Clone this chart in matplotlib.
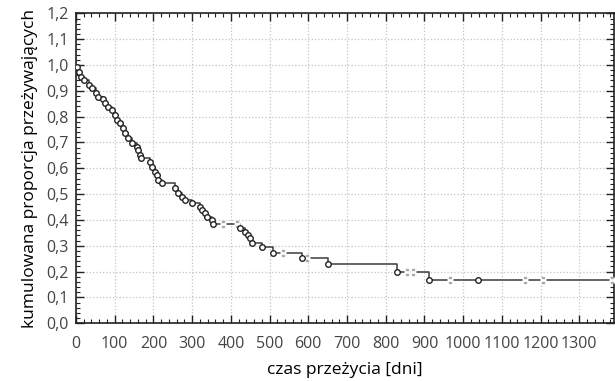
import numpy as np
import matplotlib
matplotlib.use("Agg")
import matplotlib.pyplot as plt
from matplotlib.ticker import MultipleLocator, FuncFormatter

# Kaplan-Meier estimate
event_times = [3, 8, 13, 21, 34, 42, 52, 57, 70, 75, 83, 93, 101, 106, 114,
               122, 127, 134, 145, 158, 161, 166, 168, 191, 196, 204, 209,
               212, 222, 256, 264, 274, 282, 300, 320, 326, 333, 339, 352,
               354, 424, 437, 444, 450, 455, 481, 509, 584, 651, 829, 912,
               1039]
event_surv = [0.992, 0.973, 0.954, 0.942, 0.923, 0.911, 0.892, 0.876, 0.868,
              0.853, 0.837, 0.826, 0.806, 0.787, 0.775, 0.756, 0.737, 0.718,
              0.698, 0.683, 0.671, 0.651, 0.639, 0.624, 0.605, 0.586, 0.574,
              0.555, 0.543, 0.524, 0.504, 0.489, 0.477, 0.466, 0.450, 0.439,
              0.427, 0.412, 0.400, 0.384, 0.369, 0.353, 0.342, 0.330, 0.311,
              0.295, 0.272, 0.253, 0.230, 0.200, 0.168, 0.168]
censor_times = [380, 416, 535, 597, 855, 871, 966, 1160, 1207, 1385]

x_max = 1390
xlabel = "czas przeżycia [dni]"
ylabel = "kumulowana proporcja przeżywających"

plt.rcParams["font.family"] = ["Open Sans", "DejaVu Sans"]

fig = plt.figure(figsize=(6.15, 3.81), dpi=100)
ax = fig.add_axes([0.1236, 0.1514, 0.875, 0.8136])

t = np.array([0] + event_times + [x_max], dtype=float)
s = np.array([1.0] + event_surv + [event_surv[-1]])
ax.step(t, s, where="post", color="#3a3a3a", lw=1.1, zorder=3)

# censored marks: small break in the line with a dotted tick
idx = np.searchsorted(t, censor_times, side="right") - 1
cs = s[idx]
ax.plot(censor_times, cs, ls="none", marker="s", ms=5, mfc="white",
        mec="none", zorder=4)
ax.plot(censor_times, cs, ls="none", marker="$:$", ms=5, color="#aaaaaa",
        zorder=5)

ax.plot(event_times, event_surv, ls="none", marker="o", ms=4, mfc="white",
        mec="#222222", mew=1.0, zorder=6)

ax.set_xlim(0, x_max)
ax.set_ylim(0, 1.2)
ax.xaxis.set_major_locator(MultipleLocator(100))
ax.xaxis.set_minor_locator(MultipleLocator(20))
ax.yaxis.set_major_locator(MultipleLocator(0.1))
ax.yaxis.set_minor_locator(MultipleLocator(0.02))
ax.yaxis.set_major_formatter(FuncFormatter(lambda v, p: f"{v:.1f}".replace(".", ",")))

ax.tick_params(which="both", direction="in", top=True, right=True,
               colors="#222222", labelcolor="#444444", labelsize=11.5)
ax.tick_params(which="major", length=6, width=1)
ax.tick_params(which="minor", length=3, width=0.8)
ax.tick_params(axis="x", pad=9)
ax.tick_params(axis="y", pad=5)

ax.grid(True, which="major", ls=":", color="#c4c4c4", lw=0.9)
for sp in ax.spines.values():
    sp.set_color("#222222")
    sp.set_linewidth(1.2)

ax.set_xlabel(xlabel, fontsize=12.5, labelpad=7)
ax.set_ylabel(ylabel, fontsize=12.5, labelpad=6)

fig.savefig("out.png", dpi=100)
